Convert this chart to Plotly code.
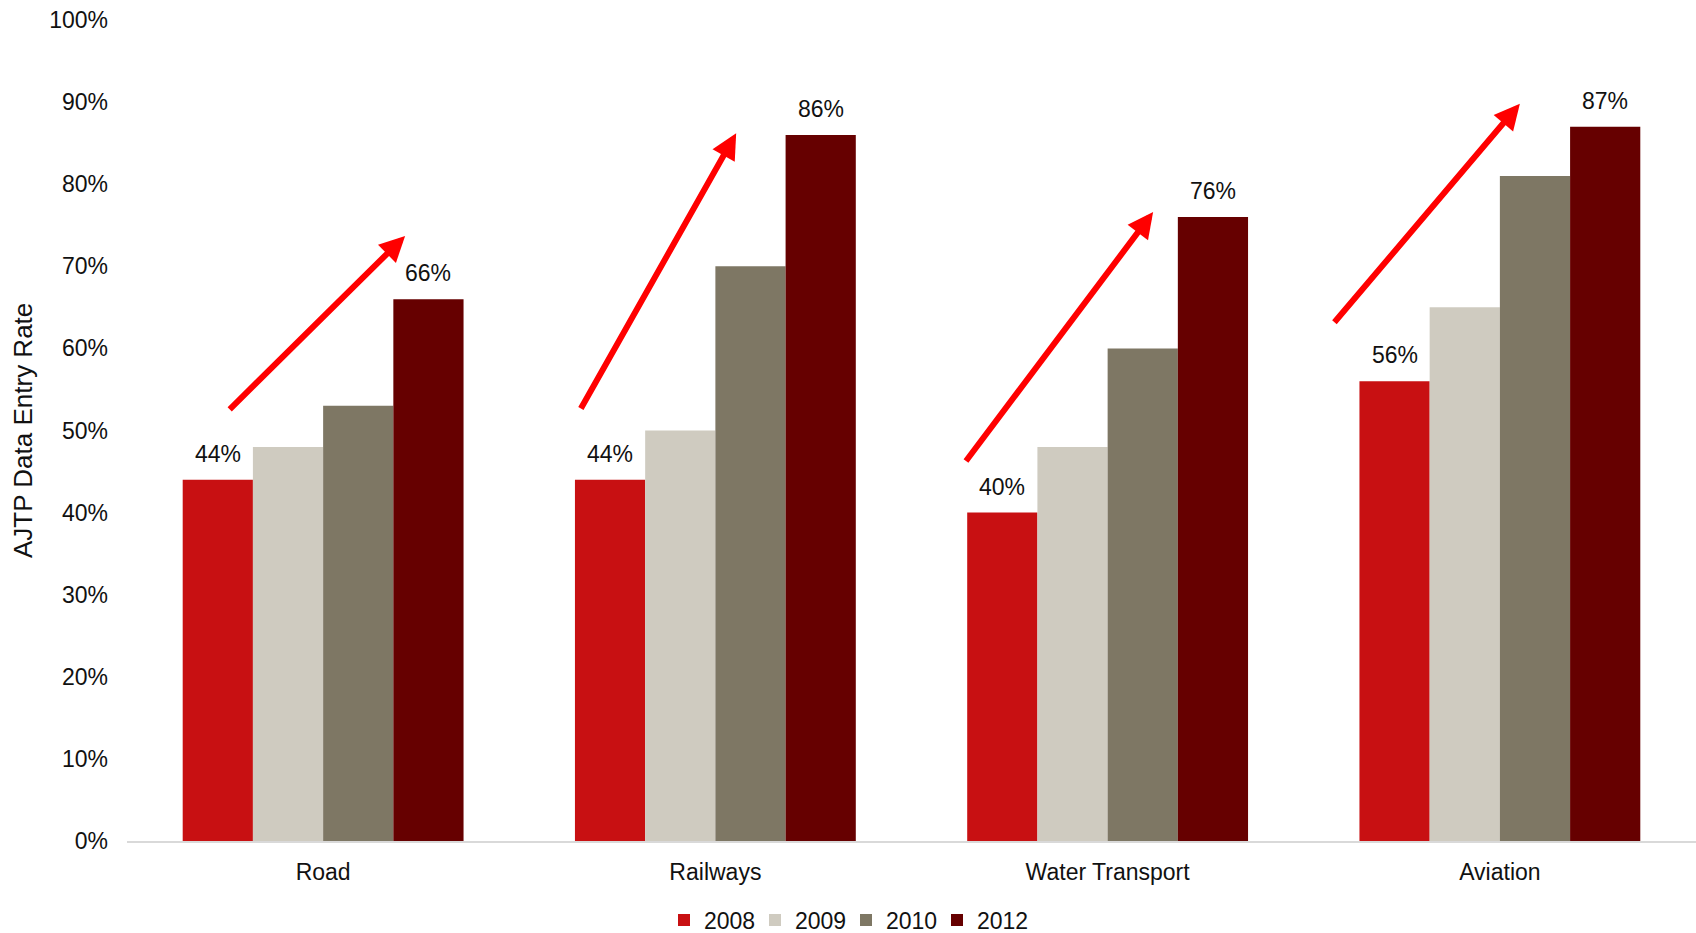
import plotly.graph_objects as go

categories = ["Road", "Railways", "Water Transport", "Aviation"]
years = ["2008", "2009", "2010", "2012"]
v2008 = [44, 44, 40, 56]
v2009 = [48, 50, 48, 65]
v2010 = [53, 70, 60, 81]
v2012 = [66, 86, 76, 87]
colors = ["#C81012", "#CFCBC0", "#7E7764", "#660000"]
y_title = "AJTP Data Entry Rate"

# trend arrows (data space): tail and head
arrow_tail_x = [-0.242, 0.655, 1.636, 2.575]
arrow_tail_y = [52.4, 52.5, 46.1, 63.0]
arrow_head_x = [0.209, 1.053, 2.116, 3.051]
arrow_head_y = [73.7, 86.2, 76.6, 89.8]

FONT = "Liberation Sans, Arial, sans-serif"
FS = 23
BARGAP = 0.284
W, H = 1696, 933
ML, MT, MB = 127, 19.5, 91.5

series = [v2008, v2009, v2010, v2012]
fig = go.Figure()
for name, vals, col in zip(years, series, colors):
    fig.add_trace(go.Bar(name=name, x=categories, y=vals, marker=dict(color=col, line=dict(width=0))))

annotations = []
# data labels on 2008 and 2012 bars
w = (1 - BARGAP) / len(series)
for k in (0, 3):
    off = (k - (len(series) - 1) / 2) * w
    for i, v in enumerate(series[k]):
        annotations.append(dict(x=i + off, y=v, xref="x", yref="y", text=f"{v}%", showarrow=False,
                                yanchor="bottom", yshift=11, font=dict(family=FONT, size=FS, color="#111111")))
for tx, ty, hx, hy in zip(arrow_tail_x, arrow_tail_y, arrow_head_x, arrow_head_y):
    annotations.append(dict(x=hx, y=hy, ax=tx, ay=ty, xref="x", yref="y", axref="x", ayref="y", text="",
                            showarrow=True, arrowhead=2, arrowsize=0.85, arrowwidth=6, arrowcolor="#FF0000"))
# y-axis title
annotations.append(dict(text=y_title, textangle=-90, xref="paper", yref="paper",
                        x=(22.5 - ML) / (W - ML), y=0.5, xanchor="center", yanchor="middle",
                        showarrow=False, font=dict(family=FONT, size=26, color="#111111")))

fig.update_layout(
    width=W, height=H,
    barmode="group", bargap=BARGAP, bargroupgap=0,
    plot_bgcolor="white", paper_bgcolor="white",
    font=dict(family=FONT, size=FS, color="#111111"),
    margin=dict(l=ML, r=0, t=MT, b=MB, autoexpand=False),
    showlegend=True,
    legend=dict(orientation="h", xref="container", yref="container",
                x=846 / W, y=1 - 920 / H,
                xanchor="center", yanchor="middle", font=dict(size=FS), traceorder="normal",
                entrywidth=46, itemwidth=30),
    annotations=annotations,
)
fig.update_xaxes(range=[-0.5, 3.5], showline=True, linecolor="#D9D9D9", linewidth=2, showgrid=False,
                 ticks="", ticklabelstandoff=9, tickfont=dict(size=FS))
fig.update_yaxes(range=[0, 100], dtick=10, ticksuffix="%", showgrid=False, zeroline=False, showline=False,
                 ticklabelstandoff=18, tickfont=dict(size=FS))
fig.write_html("out.html", config={"displayModeBar": False},
               post_script="document.body.style.margin='0';document.body.style.overflow='hidden';")
